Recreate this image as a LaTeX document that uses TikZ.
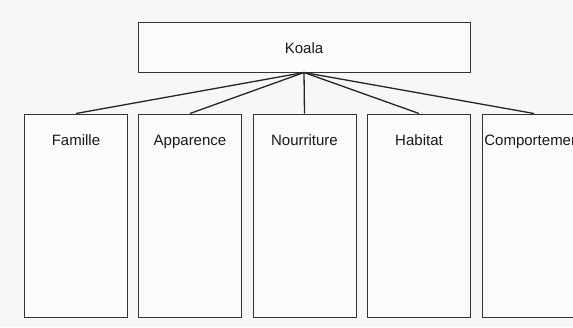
\documentclass[tikz,border=0pt]{standalone}
\usepackage{fontspec}
\setmainfont{Liberation Sans}
\begin{document}
\begin{tikzpicture}[x=1pt,y=1pt,
  boxline/.style={draw=black!80, line width=1pt},
  topbox/.style={boxline, fill=white!97!gray, minimum width=332pt, minimum height=50pt, inner sep=0pt},
  catbox/.style={boxline, fill=white!97!gray, minimum width=103pt, minimum height=203pt, inner sep=0pt},
  cattext/.style={font=\fontsize{15}{18}\selectfont, text=black!90, inner sep=0pt, anchor=base},
  link/.style={draw=black!85, line width=1.3pt}]
\useasboundingbox (0,0) rectangle (573,-327);
\fill[gray!6] (0,0) rectangle (573,-327);
\clip (0,0) rectangle (573,-327);
\node[topbox] (koala) at (304,-47) {};
\node[cattext] (koalatext) at (304,-53) {Koala};
\node[catbox] (famille) at (76,-215.5) {};
\node[catbox] (apparence) at (190,-215.5) {};
\node[catbox] (nourriture) at (304.5,-215.5) {};
\node[catbox] (habitat) at (419,-215.5) {};
\node[catbox] (comportement) at (534,-215.5) {};
\node[cattext] (t1) at ([yshift=-32pt]famille.north) {Famille};
\node[cattext] (t2) at ([yshift=-32pt]apparence.north) {Apparence};
\node[cattext] (t3) at ([yshift=-32pt]nourriture.north) {Nourriture};
\node[cattext] (t4) at ([yshift=-32pt]habitat.north) {Habitat};
\node[cattext] (t5) at ([yshift=-32pt]comportement.north) {Comportement};
\foreach \b in {famille,apparence,nourriture,habitat,comportement}
  \draw[link] (koala.south) -- (\b.north);
\end{tikzpicture}
\end{document}
